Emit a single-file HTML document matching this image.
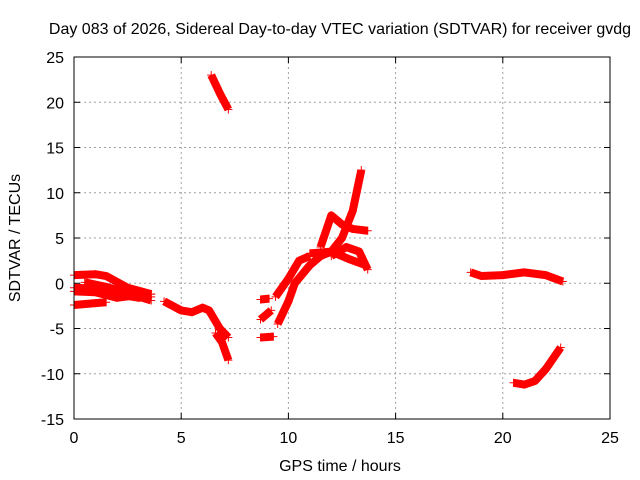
<!DOCTYPE html>
<html><head><meta charset="utf-8"><style>
body{margin:0;background:#fff}
svg{display:block;font-family:"Liberation Sans",sans-serif;font-size:16px}
</style></head><body>
<svg id="chart" width="640" height="480">
<rect width="640" height="480" fill="#fff"/>
<text x="340" y="34" text-anchor="middle">Day 083 of 2026, Sidereal Day-to-day VTEC variation (SDTVAR) for receiver gvdg</text>
<text x="340" y="471" text-anchor="middle">GPS time / hours</text>
<text transform="translate(20,238) rotate(-90)" text-anchor="middle">SDTVAR / TECUs</text>
<g id="grid"></g><g id="marks"></g><g id="axes"></g>
</svg>
<script>
const xTicks=[0,5,10,15,20,25];
const yTicks=[-15,-10,-5,0,5,10,15,20,25];
const trackA=[[0,0.9],[1,1],[1.5,0.8],[2.5,-0.5],[3.6,-1.2]];
const trackB=[[0,-0.5],[1,-0.6],[2,-1.2],[3,-1.6],[3.6,-1.5]];
const trackB2=[[0.5,0.1],[1.5,-0.4],[2.5,-1.1],[3.6,-1.9]];
const trackB3=[[0,-0.9],[1,-1],[2,-1.6],[3,-1.3],[3.6,-1.2]];
const trackC=[[0,-2.4],[1,-2.2],[1.5,-2.1]];
const trackD=[[4.2,-2],[5,-3],[5.5,-3.2],[6,-2.7],[6.3,-3],[6.8,-5],[7.2,-6]];
const trackD2=[[6.6,-5.5],[6.9,-6.5],[7.2,-8.5]];
const trackE=[[6.4,23],[6.8,21],[7.2,19.2]];
const trackF=[[8.7,-1.8],[9.1,-1.7]];
const trackG=[[8.7,-4],[9.2,-3]];
const trackH=[[8.7,-6],[9.3,-5.9]];
const trackI=[[9.5,-4.5],[10,-2],[10.3,0],[11,2],[11.5,3],[12,3.5],[12.5,5],[13,8],[13.4,12.5]];
const trackJ=[[11.5,4],[12,7.5],[12.5,6.5],[13,6],[13.7,5.8]];
const trackK=[[12,3],[12.7,4],[13.3,3.5],[13.7,1.5]];
const trackL=[[11,3.3],[12,3.5],[12.8,2.7],[13.6,2]];
const trackM=[[9.4,-1.5],[10,0.5],[10.5,2.5],[11,3]];
const trackN=[[18.5,1.2],[19,0.8],[20,0.9],[21,1.2],[22,0.9],[22.8,0.2]];
const trackO=[[20.5,-11],[21,-11.2],[21.5,-10.8],[22,-9.5],[22.7,-7.1]];
const tracks=[trackA,trackB,trackB2,trackB3,trackC,trackD,trackD2,trackE,trackF,trackG,trackH,trackI,trackJ,trackK,trackL,trackM,trackN,trackO];
const X0=74,X1=610,Y0=419,Y1=57;
const sx=h=>X0+(h-0)/25*(X1-X0);
const sy=v=>Y0-(v+15)/40*(Y0-Y1);
const NS="http://www.w3.org/2000/svg";
const grid=document.getElementById('grid'),marks=document.getElementById('marks'),axes=document.getElementById('axes');
function mk(tag,attrs,parent){const e=document.createElementNS(NS,tag);for(const k in attrs)e.setAttribute(k,attrs[k]);parent.appendChild(e);return e;}
xTicks.forEach(t=>{const x=sx(t);
 if(t>0&&t<25){const g=mk('line',{x1:x,x2:x,y1:Y1,y2:Y0,stroke:'#a0a0a0','stroke-dasharray':'2,3'},grid);
 
 }
 mk('line',{x1:x,x2:x,y1:Y0,y2:Y0-6,stroke:'#000'},axes);mk('line',{x1:x,x2:x,y1:Y1,y2:Y1+6,stroke:'#000'},axes);
 const l=mk('text',{x:x,y:Y0+24,'text-anchor':'middle'},axes);l.textContent=t;
 
 });
yTicks.forEach(t=>{const y=sy(t);
 if(t>-15&&t<25){const g=mk('line',{x1:X0,x2:X1,y1:y,y2:y,stroke:'#a0a0a0','stroke-dasharray':'2,3'},grid);
 
 }
 mk('line',{x1:X0,x2:X0+6,y1:y,y2:y,stroke:'#000'},axes);mk('line',{x1:X1,x2:X1-6,y1:y,y2:y,stroke:'#000'},axes);
 const l=mk('text',{x:X0-10,y:y+6,'text-anchor':'end'},axes);l.textContent=t;
 
 });
const frame=mk('rect',{x:X0,y:Y1,width:X1-X0,height:Y0-Y1,fill:'none',stroke:'#000'},axes);


tracks.forEach((tr,i)=>{
 const p=mk('polyline',{points:tr.map(d=>sx(d[0])+','+sy(d[1])).join(' '),fill:'none',stroke:'#ff0000','stroke-width':8,'stroke-linejoin':'round'},marks);
 
 
 tr.forEach(d=>{const x=sx(d[0]),y=sy(d[1]);
  const m=mk('path',{d:`M${x-4},${y}h8M${x},${y-4}v8`,stroke:'#ff0000','stroke-width':1},marks);
  
  });
});
</script>
</body></html>
